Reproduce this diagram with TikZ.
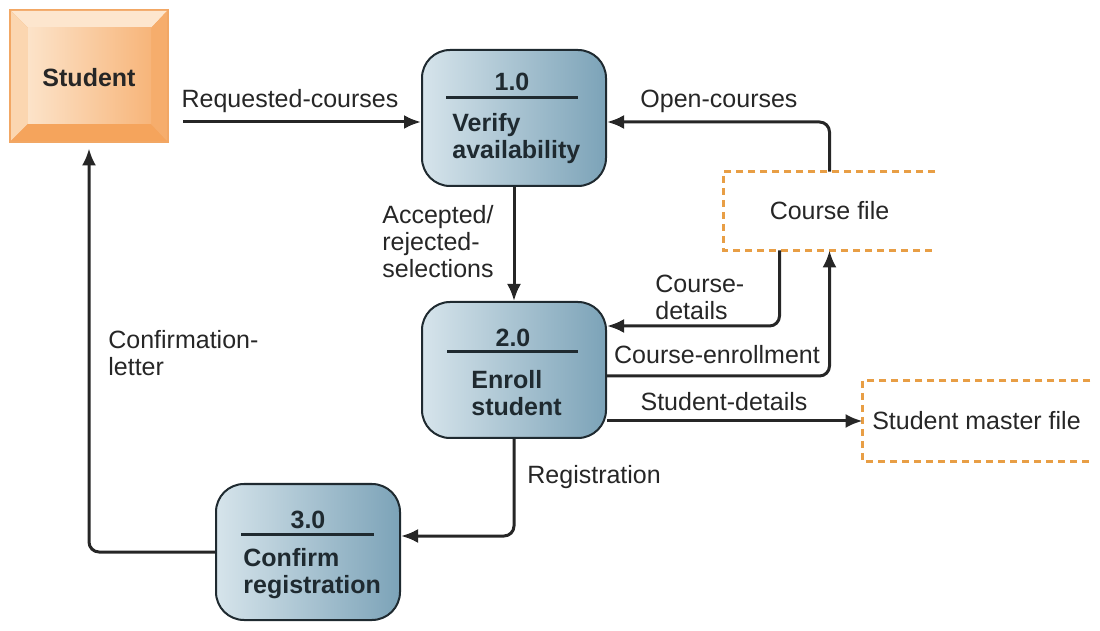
\documentclass[tikz,border=0pt]{standalone}
\usepackage{fontspec}
\setmainfont{Liberation Sans}
\usetikzlibrary{arrows.meta}

\definecolor{procleft}{HTML}{D6E4EB}
\definecolor{procright}{HTML}{7CA3B8}
\definecolor{procedge}{HTML}{1F2A30}
\definecolor{storeedge}{HTML}{E89E45}
\definecolor{entedge}{HTML}{F2A764}
\definecolor{entface}{HTML}{FCE3C9}
\definecolor{entfacedark}{HTML}{F7B57A}
\definecolor{bevtop}{HTML}{FDE6CE}
\definecolor{bevleft}{HTML}{FBD6B0}
\definecolor{bevbot}{HTML}{F5A45C}
\definecolor{bevright}{HTML}{F6AD6C}

\begin{document}
\begin{tikzpicture}[x=0.5pt,y=-0.5pt,font=\fontsize{12.5}{13.5}\selectfont,
    process/.style={draw=procedge,line width=1pt,rounded corners=14pt,
      left color=procleft,right color=procright,
      minimum width=92pt,minimum height=68pt},
    store/.style={draw=storeedge,line width=1.2pt,dash pattern=on 3.5pt off 2.5pt},
    flow/.style={draw=black!85,line width=1.5pt,rounded corners=5pt,
      -{Latex[length=8.5pt,width=7pt]}},
    label/.style={align=left,inner sep=0pt,text=black!85}]

  \useasboundingbox (0,0) rectangle (1100,631);

  % external entity
  \node (s) at (89,76) [minimum width=79pt,minimum height=66pt,inner sep=0pt] {};
  \fill[entedge] (s.north west) rectangle (s.south east);
  \fill[bevtop] (11,11) -- (167,11) -- (151,28) -- (28,28) -- cycle;
  \fill[bevleft] (11,11) -- (28,28) -- (28,124) -- (11,141) -- cycle;
  \fill[bevbot] (11,141) -- (28,124) -- (151,124) -- (167,141) -- cycle;
  \fill[bevright] (167,11) -- (151,28) -- (151,124) -- (167,141) -- cycle;
  \shade[left color=entface,right color=entfacedark] (28,28) rectangle (151,124);
  \draw[entedge,line width=0.8pt] (s.north west) rectangle (s.south east);
  \node[font=\fontsize{12.5}{13.5}\selectfont\bfseries,text=black!85] at (89,78) {Student};

  % processes
  \node (p1) at (514,118) [process] {};
  \node (p2) at (514,370) [process] {};
  \node (p3) at (308,552) [process] {};

  \begin{scope}[every node/.style={font=\fontsize{12.5}{13.5}\selectfont\bfseries,
      align=left,inner sep=0pt,text=procedge}]
    \node (n1) at (512,82) {1.0};
    \node (t1) at (452,139) [anchor=west] {Verify\\availability};
    \node (n2) at (513,338) {2.0};
    \node (t2) at (471,393) [anchor=west] {Enroll\\student};
    \node (n3) at (308,520) {3.0};
    \node (t3) at (243,574) [anchor=west] {Confirm\\registration};
  \end{scope}
  \draw[procedge,line width=1.5pt] (446,98) -- (578,98);
  \draw[procedge,line width=1.5pt] (447,352) -- (578,352);
  \draw[procedge,line width=1.5pt] (241,534) -- (374,534);

  % data stores
  \node (cf) at (829.5,211) [minimum width=105.5pt,minimum height=39pt,inner sep=0pt,text=black!85] {Course file};
  \draw[store] (cf.north east) -- (cf.north west) -- (cf.south west) -- (cf.south east);
  \node (sm) at (976.5,421) [minimum width=113.5pt,minimum height=40pt,inner sep=0pt,text=black!85] {Student master file};
  \draw[store] (sm.north east) -- (sm.north west) -- (sm.south west) -- (sm.south east);

  % data flows
  \coordinate (rq) at (183,122);
  \draw[flow] (rq) -- ([yshift=-2pt]p1.west);
  \draw[flow] (cf.north) |- ([yshift=-2pt]p1.east);
  \draw[flow] (p1.south) -- (p2.north);
  \draw[flow] ([xshift=-25pt]cf.south) |- ([yshift=22pt]p2.east);
  \draw[flow] ([yshift=-3pt]p2.east) -| (cf.south);
  \draw[flow] ([yshift=-25.5pt]p2.east) -- (sm.west);
  \draw[flow] (p2.south) |- ([yshift=8pt]p3.east);
  \draw[flow] (p3.west) -| ([yshift=-3pt]s.south);

  % flow labels
  \node[label] at (290,101) {Requested-courses};
  \node[label] at (719,101) {Open-courses};
  \node[label,anchor=west] at (382,242) {Accepted/\\rejected-\\selections};
  \node[label,anchor=west] at (655,297) {Course-\\details};
  \node[label] at (717,355) {Course-enrollment};
  \node[label] at (724,402) {Student-details};
  \node[label,anchor=west] at (527,477) {Registration};
  \node[label,anchor=west] at (108,353) {Confirmation-\\letter};

\end{tikzpicture}
\end{document}
